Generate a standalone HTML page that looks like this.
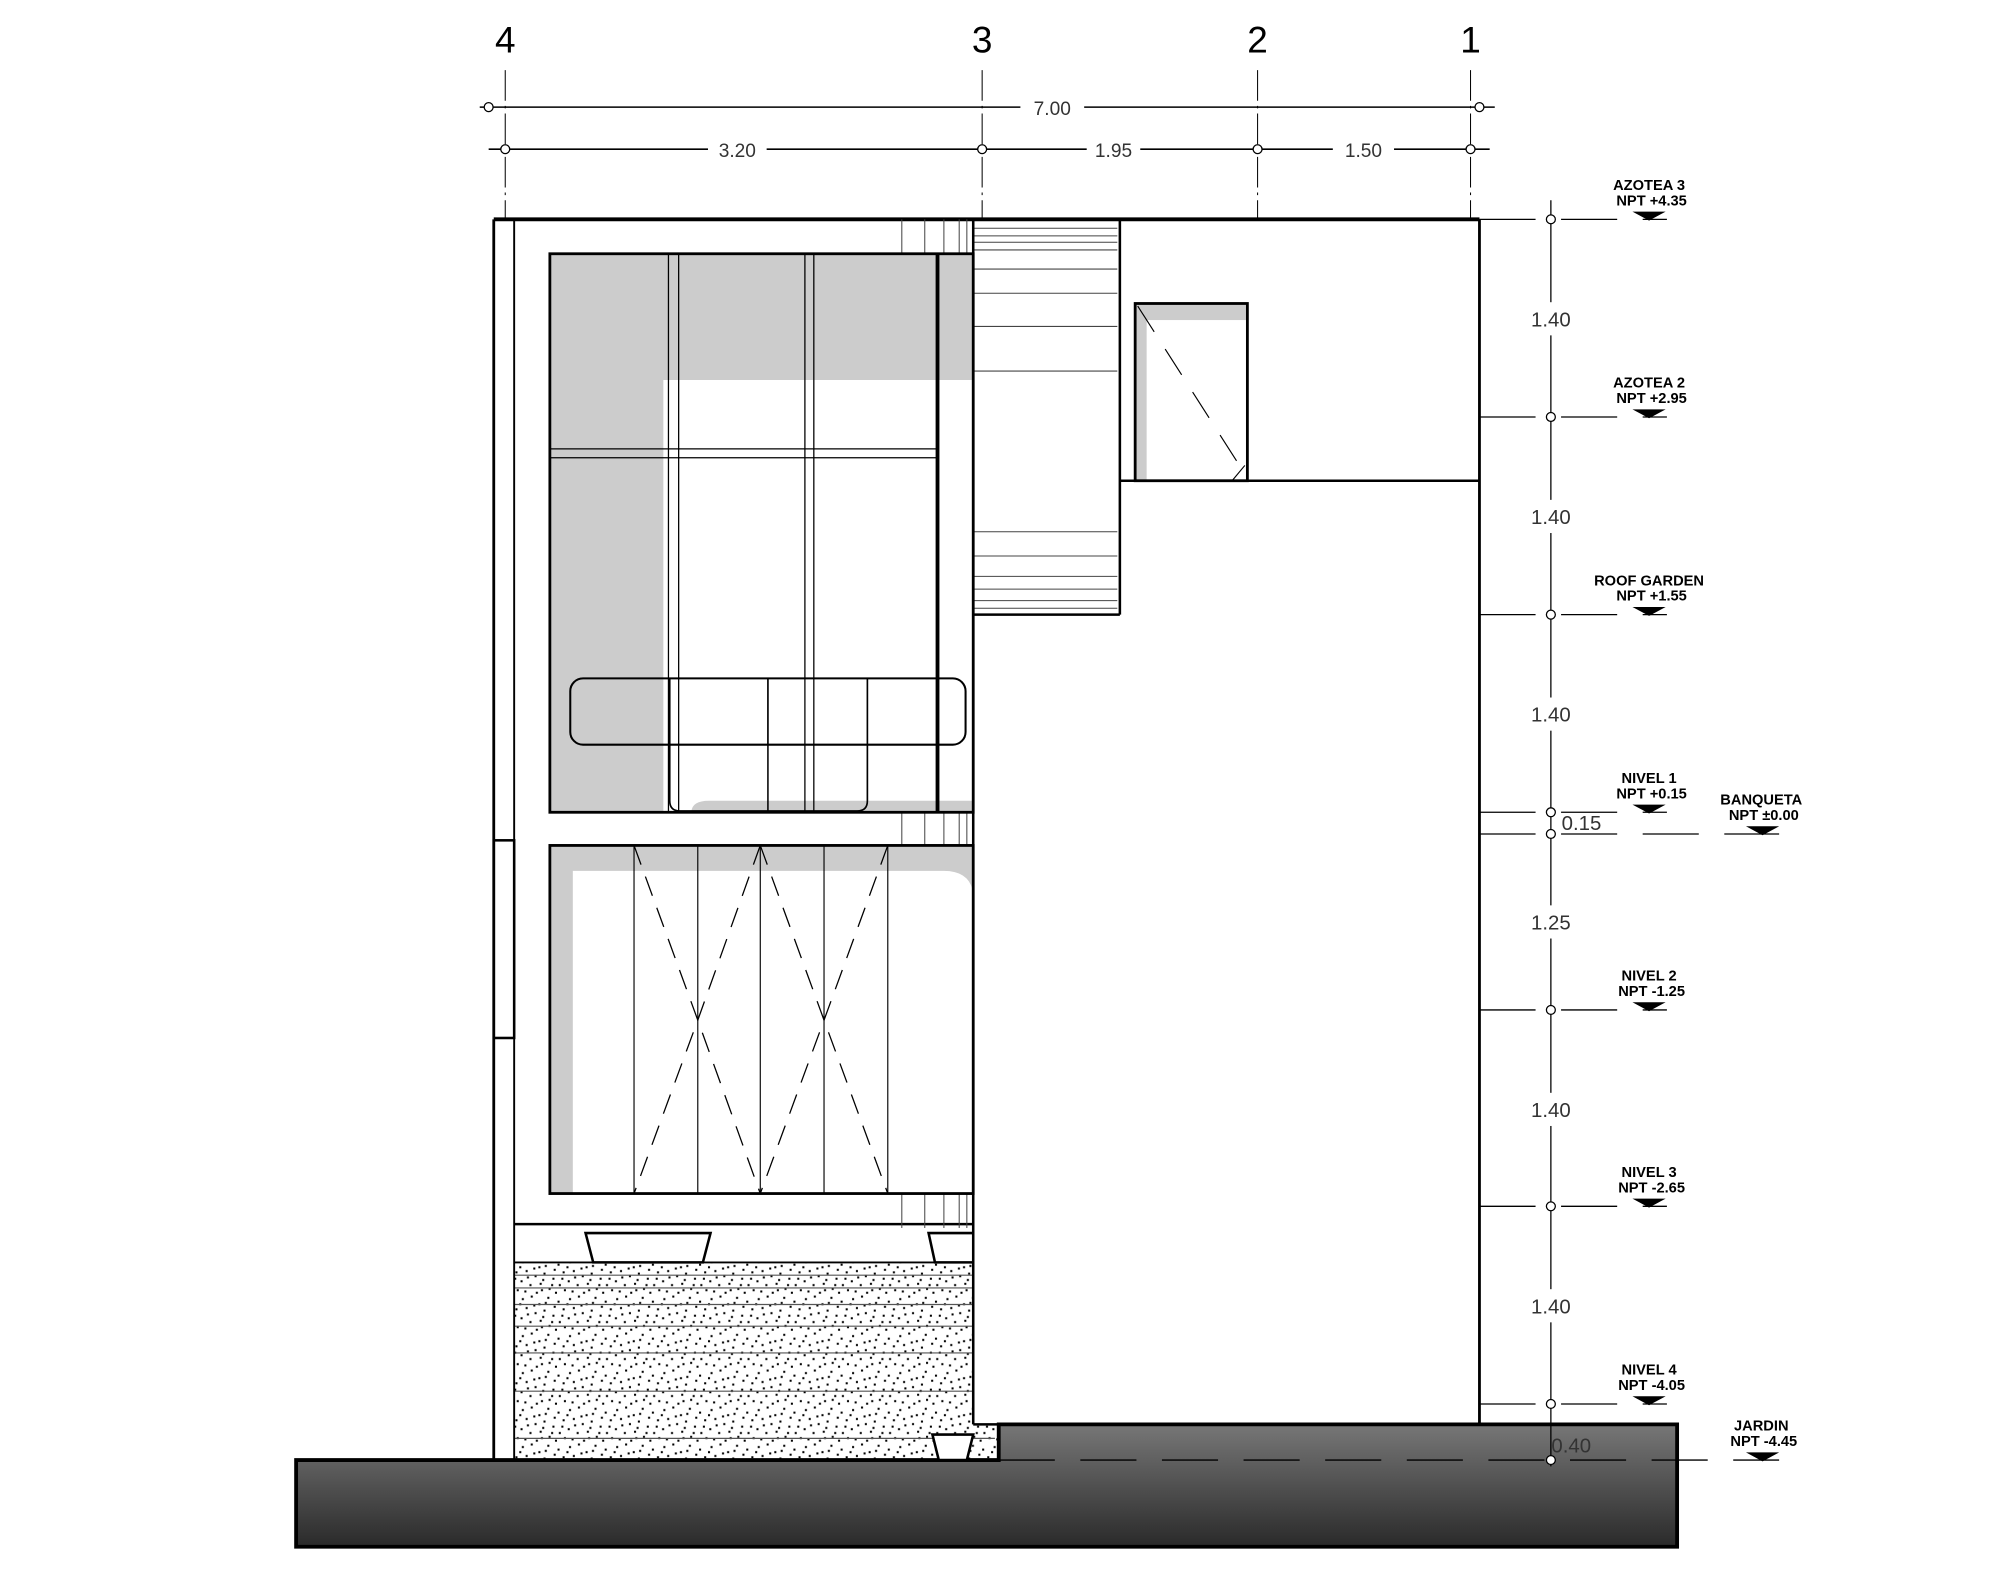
<!DOCTYPE html>
<html><head><meta charset="utf-8"><style>
html,body{margin:0;padding:0;background:#fff;}
svg{display:block;}
text{font-family:"Liberation Sans",sans-serif;}
</style></head><body>
<svg width="2000" height="1571" viewBox="0 0 1568 1232" xmlns="http://www.w3.org/2000/svg">
<defs>
<pattern id="dots" width="37" height="29" patternUnits="userSpaceOnUse">
<g fill="#000">
<rect x="2" y="3" width="1.6" height="1.6"/><rect x="9" y="1" width="1.6" height="1.6"/><rect x="15" y="7" width="1.6" height="1.6"/><rect x="22" y="2" width="1.6" height="1.6"/><rect x="30" y="5" width="1.6" height="1.6"/><rect x="34" y="11" width="1.6" height="1.6"/><rect x="5" y="10" width="1.6" height="1.6"/><rect x="12" y="14" width="1.6" height="1.6"/><rect x="19" y="12" width="1.6" height="1.6"/><rect x="26" y="16" width="1.6" height="1.6"/><rect x="1" y="18" width="1.6" height="1.6"/><rect x="8" y="21" width="1.6" height="1.6"/><rect x="16" y="20" width="1.6" height="1.6"/><rect x="23" y="24" width="1.6" height="1.6"/><rect x="31" y="21" width="1.6" height="1.6"/><rect x="4" y="26" width="1.6" height="1.6"/><rect x="13" y="27" width="1.6" height="1.6"/><rect x="28" y="27" width="1.6" height="1.6"/><rect x="35" y="25" width="1.6" height="1.6"/><rect x="20" y="6" width="1.6" height="1.6"/><rect x="27" y="9" width="1.6" height="1.6"/>
<rect x="6" y="15" width="1.6" height="1.6"/><rect x="18" y="17" width="1.6" height="1.6"/><rect x="33" y="16" width="1.6" height="1.6"/><rect x="11" y="8" width="1.6" height="1.6"/><rect x="25" y="21" width="1.6" height="1.6"/><rect x="0" y="7" width="1.6" height="1.6"/><rect x="17" y="25" width="1.6" height="1.6"/>
</g></pattern>
<linearGradient id="gnd" x1="0" y1="0" x2="0" y2="1"><stop offset="0" stop-color="#777"/><stop offset="1" stop-color="#2a2a2a"/></linearGradient>
</defs>

<g font-size="29" text-anchor="middle" fill="#000">
<text x="396" y="41">4</text><text x="770" y="41">3</text><text x="986" y="41">2</text><text x="1153" y="41">1</text>
</g>
<g stroke="#000" stroke-width="0.8" fill="none">
<line x1="396" y1="55" x2="396" y2="172" stroke-dasharray="24 4 2 4"/>
<line x1="770" y1="55" x2="770" y2="172" stroke-dasharray="24 4 2 4"/>
<line x1="986" y1="55" x2="986" y2="172" stroke-dasharray="24 4 2 4"/>
<line x1="1153" y1="55" x2="1153" y2="172" stroke-dasharray="24 4 2 4"/>
<line x1="376" y1="84" x2="1172" y2="84" stroke-width="1.2"/>
<line x1="383" y1="117" x2="1168" y2="117" stroke-width="1.2"/>
</g>
<g fill="#fff">
<rect x="800" y="74" width="50" height="20"/>
<rect x="555" y="107" width="46" height="20"/>
<rect x="852" y="107" width="42" height="20"/>
<rect x="1045" y="107" width="48" height="20"/>
</g>
<g font-size="15" text-anchor="middle" fill="#333">
<text x="825" y="90">7.00</text><text x="578" y="123">3.20</text><text x="873" y="123">1.95</text><text x="1069" y="123">1.50</text>
</g>
<g fill="#fff" stroke="#000" stroke-width="1">
<circle cx="383" cy="84" r="3.5"/><circle cx="1160" cy="84" r="3.5"/>
<circle cx="396" cy="117" r="3.5"/><circle cx="770" cy="117" r="3.5"/><circle cx="986" cy="117" r="3.5"/><circle cx="1153" cy="117" r="3.5"/>
</g>

<path d="M232 1145 H783 V1117 H1315 V1213 H232 Z" fill="url(#gnd)" stroke="#000" stroke-width="3"/>

<rect x="403" y="990" width="360" height="155" fill="url(#dots)"/>
<rect x="763" y="1117" width="20" height="28" fill="url(#dots)"/>
<g stroke="#555" stroke-width="0.9">
<line x1="403" y1="1000" x2="763" y2="1000"/><line x1="403" y1="1010" x2="763" y2="1010"/><line x1="403" y1="1023" x2="763" y2="1023"/><line x1="403" y1="1040" x2="763" y2="1040"/><line x1="403" y1="1061" x2="763" y2="1061"/><line x1="403" y1="1091" x2="763" y2="1091"/><line x1="403" y1="1128" x2="780" y2="1128"/>
</g>

<g stroke="#000" fill="none">
<line x1="387" y1="172" x2="1160" y2="172" stroke-width="3"/>
<line x1="387" y1="172" x2="387" y2="1145" stroke-width="2.2"/>
<line x1="403" y1="172" x2="403" y2="1145" stroke-width="1.5"/>
<rect x="387" y="659" width="16" height="155" stroke-width="2"/>
<line x1="1160" y1="172" x2="1160" y2="1117" stroke-width="2.2"/>
<line x1="763" y1="172" x2="763" y2="1117" stroke-width="2"/>
<line x1="763" y1="1117" x2="783" y2="1117" stroke-width="2"/>
<line x1="878" y1="172" x2="878" y2="482" stroke-width="2"/>
<line x1="763" y1="482" x2="878" y2="482" stroke-width="2"/>
<line x1="878" y1="377" x2="1160" y2="377" stroke-width="2"/>
<line x1="403" y1="960" x2="763" y2="960" stroke-width="2"/>
<line x1="403" y1="990" x2="763" y2="990" stroke-width="1.5"/>
</g>
<g stroke="#444" stroke-width="0.8">
<line x1="764" y1="179" x2="876" y2="179"/><line x1="764" y1="185" x2="876" y2="185"/><line x1="764" y1="190" x2="876" y2="190"/><line x1="764" y1="196" x2="876" y2="196"/><line x1="764" y1="211" x2="876" y2="211"/><line x1="764" y1="230" x2="876" y2="230"/><line x1="764" y1="256" x2="876" y2="256"/><line x1="764" y1="291" x2="876" y2="291"/>
<line x1="764" y1="417" x2="876" y2="417"/><line x1="764" y1="452" x2="876" y2="452"/><line x1="764" y1="477" x2="876" y2="477"/><line x1="764" y1="462" x2="876" y2="462"/><line x1="764" y1="471" x2="876" y2="471"/><line x1="764" y1="436" x2="876" y2="436"/>
<g id="vs"><line x1="707" y1="172" x2="707" y2="199"/><line x1="725" y1="172" x2="725" y2="199"/><line x1="740" y1="172" x2="740" y2="199"/><line x1="752" y1="172" x2="752" y2="199"/><line x1="758" y1="172" x2="758" y2="199"/></g>
<use href="#vs" y="465"/><use href="#vs" y="764"/>
</g>

<rect x="431" y="199" width="332" height="438" fill="#cccccc"/>
<path d="M520 637 V298 H763 V637 Z" fill="#fff"/>
<path d="M542 637 Q542 628 556 628 H763 V637 Z" fill="#cccccc"/>
<g stroke="#000" fill="none">
<rect x="431" y="199" width="332" height="438" stroke-width="2.2"/>
<line x1="735" y1="199" x2="735" y2="637" stroke-width="3"/>
<line x1="524" y1="199" x2="524" y2="637" stroke-width="1"/><line x1="532" y1="199" x2="532" y2="637" stroke-width="1"/>
<line x1="631" y1="199" x2="631" y2="637" stroke-width="1"/><line x1="638" y1="199" x2="638" y2="637" stroke-width="1"/>
<line x1="431" y1="352" x2="735" y2="352" stroke-width="1"/><line x1="431" y1="359" x2="735" y2="359" stroke-width="1"/>
<rect x="447" y="532" width="310" height="52" rx="10" stroke-width="1.6" fill="none"/>
<line x1="525" y1="532" x2="525" y2="584" stroke-width="1.3"/><line x1="602" y1="532" x2="602" y2="584" stroke-width="1.3"/><line x1="680" y1="532" x2="680" y2="584" stroke-width="1.3"/>
<path d="M525 584 V628 Q525 636 533 636 H672 Q680 636 680 628 V584" stroke-width="1.3"/>
<line x1="602" y1="584" x2="602" y2="637" stroke-width="1.2"/>
</g>

<rect x="431" y="663" width="332" height="273" fill="#cccccc"/>
<path d="M449 936 V683 H740 Q760 683 763 700 V936 Z" fill="#fff"/>
<g stroke="#000" fill="none">
<rect x="431" y="663" width="332" height="273" stroke-width="2.2"/>
<line x1="497" y1="663" x2="497" y2="936" stroke-width="0.9"/><line x1="547" y1="663" x2="547" y2="936" stroke-width="0.9"/><line x1="596" y1="663" x2="596" y2="936" stroke-width="0.9"/><line x1="646" y1="663" x2="646" y2="936" stroke-width="0.9"/><line x1="696" y1="663" x2="696" y2="936" stroke-width="0.9"/>
<g stroke-width="1" stroke-dasharray="16 10">
<path d="M497 663 L547 800 L497 936"/><path d="M596 663 L547 800 L596 936"/>
<path d="M596 663 L646 800 L596 936"/><path d="M696 663 L646 800 L696 936"/>
</g>
</g>

<rect x="890" y="238" width="88" height="139" fill="#ccc"/>
<rect x="899" y="251" width="79" height="126" fill="#fff"/>
<g stroke="#000" fill="none">
<rect x="890" y="238" width="88" height="139" stroke-width="2.2"/>
<path d="M892 240 L975 370" stroke-width="0.9" stroke-dasharray="24 16"/>
<line x1="966" y1="377" x2="976" y2="365" stroke-width="0.9"/>
</g>

<g stroke="#000" stroke-width="2" fill="#fff">
<path d="M459 967 H557 L551 990 H465 Z"/>
<path d="M728 967 H763 V990 H733 Z"/>
<path d="M731 1125 H763 L758 1145 H736 Z"/>
</g>

<g stroke="#000" fill="none" stroke-width="1">
<line x1="1216" y1="157" x2="1216" y2="1150"/>
</g>
<g fill="#fff">
<rect x="1196" y="237" width="40" height="26"/><rect x="1196" y="392" width="40" height="26"/><rect x="1196" y="547" width="40" height="26"/><rect x="1196" y="710" width="40" height="26"/><rect x="1196" y="857" width="40" height="26"/><rect x="1196" y="1011" width="40" height="26"/>
</g>
<g font-size="16" fill="#333" text-anchor="middle">
<text x="1216" y="256">1.40</text><text x="1216" y="411">1.40</text><text x="1216" y="566">1.40</text><text x="1216" y="729">1.25</text><text x="1216" y="876">1.40</text><text x="1216" y="1030">1.40</text>
<text x="1240" y="651">0.15</text><text x="1232" y="1139">0.40</text>
</g>
<g stroke="#000" stroke-width="1" stroke-dasharray="44 20">
<line x1="1160" y1="172" x2="1307" y2="172"/><line x1="1160" y1="327" x2="1307" y2="327"/><line x1="1160" y1="482" x2="1307" y2="482"/><line x1="1160" y1="637" x2="1307" y2="637"/><line x1="1160" y1="792" x2="1307" y2="792"/><line x1="1160" y1="946" x2="1307" y2="946"/><line x1="1160" y1="1101" x2="1307" y2="1101"/>
<line x1="1160" y1="654" x2="1395" y2="654"/><line x1="783" y1="1145" x2="1395" y2="1145"/>
</g>
<g fill="#fff" stroke="#000" stroke-width="1">
<circle cx="1216" cy="172" r="3.5"/><circle cx="1216" cy="327" r="3.5"/><circle cx="1216" cy="482" r="3.5"/><circle cx="1216" cy="637" r="3.5"/><circle cx="1216" cy="654" r="3.5"/><circle cx="1216" cy="792" r="3.5"/><circle cx="1216" cy="946" r="3.5"/><circle cx="1216" cy="1101" r="3.5"/><circle cx="1216" cy="1145" r="3.5"/>
</g>
<g fill="#000">
<path d="M1280 166 H1306 L1293 173 Z"/><path d="M1280 321 H1306 L1293 328 Z"/><path d="M1280 476 H1306 L1293 483 Z"/><path d="M1280 631 H1306 L1293 638 Z"/><path d="M1280 786 H1306 L1293 793 Z"/><path d="M1280 940 H1306 L1293 947 Z"/><path d="M1280 1095 H1306 L1293 1102 Z"/>
<path d="M1369 648 H1395 L1382 655 Z"/><path d="M1369 1139 H1395 L1382 1146 Z"/>
</g>
<g font-size="11.5" font-weight="bold" fill="#000" text-anchor="middle">
<text x="1293" y="149">AZOTEA 3</text><text x="1295" y="161">NPT +4.35</text>
<text x="1293" y="304">AZOTEA 2</text><text x="1295" y="316">NPT +2.95</text>
<text x="1293" y="459">ROOF GARDEN</text><text x="1295" y="471">NPT +1.55</text>
<text x="1293" y="614">NIVEL 1</text><text x="1295" y="626">NPT +0.15</text>
<text x="1381" y="631">BANQUETA</text><text x="1383" y="643">NPT ±0.00</text>
<text x="1293" y="769">NIVEL 2</text><text x="1295" y="781">NPT -1.25</text>
<text x="1293" y="923">NIVEL 3</text><text x="1295" y="935">NPT -2.65</text>
<text x="1293" y="1078">NIVEL 4</text><text x="1295" y="1090">NPT -4.05</text>
<text x="1381" y="1122">JARDIN</text><text x="1383" y="1134">NPT -4.45</text>
</g>
</svg>
</body></html>
